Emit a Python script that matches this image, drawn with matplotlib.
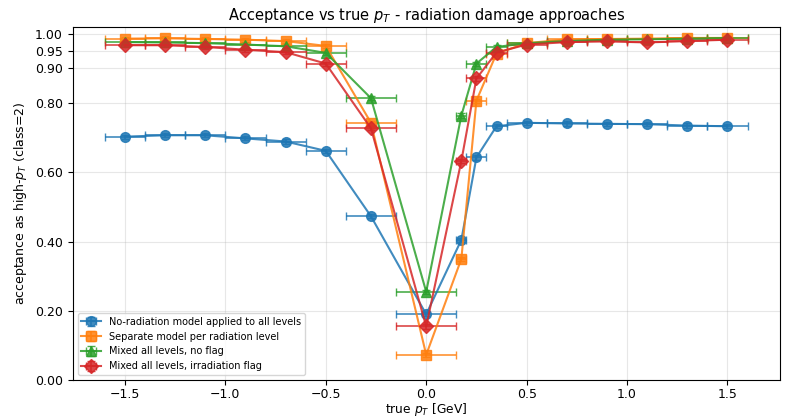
import matplotlib
matplotlib.use('Agg')
import matplotlib.pyplot as plt
import numpy as np

# bin edges of true pT [GeV]
bin_lo = [-1.6, -1.4, -1.2, -1.0, -0.8, -0.6, -0.4, -0.15, 0.15, 0.2, 0.3, 0.4, 0.6, 0.8, 1.0, 1.2, 1.4]
bin_hi = [-1.4, -1.2, -1.0, -0.8, -0.6, -0.4, -0.15, 0.15, 0.2, 0.3, 0.4, 0.6, 0.8, 1.0, 1.2, 1.4, 1.6]

acc_norad = [0.703, 0.707, 0.707, 0.698, 0.689, 0.662, 0.473, 0.190, 0.405, 0.643, 0.733,
             0.743, 0.741, 0.740, 0.739, 0.735, 0.733]
acc_separate = [0.986, 0.987, 0.985, 0.983, 0.979, 0.965, 0.743, 0.073, 0.350, 0.807, 0.943,
                0.973, 0.984, 0.985, 0.986, 0.988, 0.988]
acc_mixed = [0.976, 0.975, 0.973, 0.969, 0.964, 0.945, 0.814, 0.255, 0.764, 0.914, 0.962,
             0.973, 0.979, 0.983, 0.984, 0.986, 0.988]
acc_mixed_flag = [0.967, 0.967, 0.962, 0.954, 0.947, 0.914, 0.727, 0.155, 0.633, 0.871, 0.946,
                  0.969, 0.976, 0.978, 0.975, 0.979, 0.983]

series = [
    ('No-radiation model applied to all levels', acc_norad, 'o', '#1f77b4'),
    ('Separate model per radiation level', acc_separate, 's', '#ff7f0e'),
    ('Mixed all levels, no flag', acc_mixed, '^', '#2ca02c'),
    ('Mixed all levels, irradiation flag', acc_mixed_flag, 'D', '#d62728'),
]

lo = np.array(bin_lo)
hi = np.array(bin_hi)
centers = (lo + hi) / 2
xerr = (hi - lo) / 2

fig = plt.figure(figsize=(7.86, 4.2), dpi=100)
ax = fig.add_axes([0.0925, 0.095, 0.8995, 0.841])

for label, vals, marker, color in series:
    y = np.array(vals)
    yerr = np.full_like(y, 0.006)
    ax.errorbar(centers, y, xerr=xerr, yerr=yerr, marker=marker, color=color,
                markersize=7, linewidth=1.5, capsize=3, elinewidth=1.2,
                alpha=0.85, label=label)

ax.set_ylim(0, 1.02)
ax.set_yticks([0.0, 0.2, 0.4, 0.6, 0.8, 0.9, 0.95, 1.0])
ax.set_yticklabels(['0.00', '0.20', '0.40', '0.60', '0.80', '0.90', '0.95', '1.00'])
ax.set_xticks([-1.5, -1.0, -0.5, 0.0, 0.5, 1.0, 1.5])
ax.tick_params(labelsize=9)
ax.tick_params(axis='x', pad=2.5)
ax.grid(True, alpha=0.3)
ax.set_xlabel('true $p_T$ [GeV]', fontsize=8.8, labelpad=0)
ax.set_ylabel('acceptance as high-$p_T$ (class=2)', fontsize=9)
ax.set_title('Acceptance vs true $p_T$ - radiation damage approaches', fontsize=10.5, pad=5)
ax.legend(loc='lower left', fontsize=7)

fig.savefig('out.png', dpi=100)
